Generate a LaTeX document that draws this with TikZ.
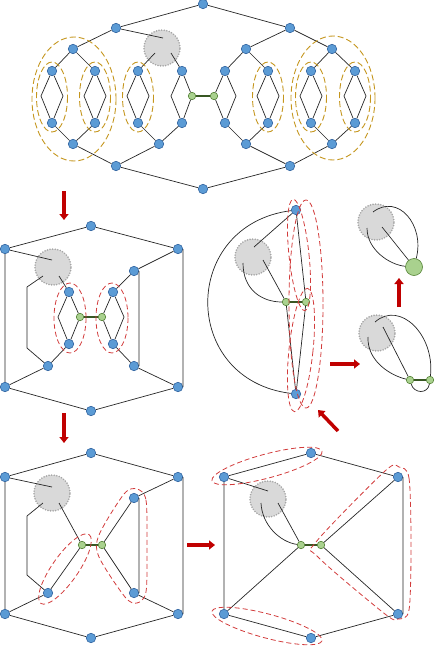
\documentclass[tikz,border=0pt]{standalone}
\usetikzlibrary{arrows.meta}
\definecolor{blunodo}{RGB}{91,155,213}
\definecolor{blubordo}{RGB}{50,100,160}
\definecolor{verdenodo}{RGB}{169,209,142}
\definecolor{verdebordo}{RGB}{84,130,53}
\definecolor{verdeponte}{RGB}{56,87,35}
\definecolor{grigio}{RGB}{217,217,217}
\definecolor{grigiobordo}{RGB}{166,166,166}
\definecolor{oro}{RGB}{197,150,30}
\definecolor{rossotratto}{RGB}{210,60,60}
\definecolor{rossofreccia}{RGB}{192,0,0}
\definecolor{linea}{RGB}{38,38,38}
\tikzset{
    nodo/.style={circle, inner sep=0pt, minimum size=9.5pt, fill=blunodo, draw=blubordo, line width=0.6pt}, % nodi blu
    verde/.style={circle, inner sep=0pt, minimum size=7.5pt, fill=verdenodo, draw=verdebordo, line width=0.6pt}, % nodi verdi
    grande/.style={verde, minimum size=17pt}, % nodo verde contratto
    macchia/.style={circle, minimum size=36pt, fill=grigio, draw=grigiobordo, line width=1.8pt, line cap=round, dash pattern=on 0pt off 2.6pt}, % sottografo
    arco/.style={draw=linea, line width=0.7pt},
    ponte/.style={draw=verdeponte, line width=2pt},
    ellisseoro/.style={draw=oro, line width=0.9pt, dash pattern=on 6pt off 3pt},
    ellisserossa/.style={draw=rossotratto, line width=0.8pt, dash pattern=on 5pt off 3pt},
    freccia/.style={draw=rossofreccia, line width=3.5pt, -{Triangle[width=9pt,length=6pt]}},
}

\begin{document}
\begin{tikzpicture}[x=1pt, y=-1pt]
\useasboundingbox (0,0) rectangle (436,648);

% Grafo iniziale
\node[macchia] (g1) at (162,48) {};
\node[nodo] (t0) at (203,4) {};
\node[nodo] (l1) at (116,28) {};
\node[nodo] (r1) at (290,28) {};
\node[nodo] (l2) at (73,49) {};
\node[nodo] (r2) at (246,49) {};
\node[nodo] (r3) at (332,49) {};
\foreach \i/\x in {1/52,2/95,3/138,4/182,5/225,6/268,7/311,8/355} {
    \node[nodo] (a\i) at (\x,71) {};
    \node[nodo] (b\i) at (\x,123) {};
}
\node[verde] (v1) at (192,96) {};
\node[verde] (v2) at (214,96) {};
\node[nodo] (l3) at (73,144) {};
\node[nodo] (l4) at (159,144) {};
\node[nodo] (r4) at (246,144) {};
\node[nodo] (r5) at (332,144) {};
\node[nodo] (l5) at (116,166) {};
\node[nodo] (r6) at (290,166) {};
\node[nodo] (d0) at (203,189) {};

\draw[arco] (l1) -- (t0) -- (r1)
    (l1) -- (l2) (l1) -- ([shift={(1,-10)}]g1.center)
    (r1) -- (r2) (r1) -- (r3)
    (l2) -- (a1) (l2) -- (a2)
    ([shift={(-7,5)}]g1.center) -- (a3) ([shift={(9,5)}]g1.center) -- (a4)
    (r2) -- (a5) (r2) -- (a6) (r3) -- (a7) (r3) -- (a8)
    (b1) -- (l3) -- (b2) (b3) -- (l4) -- (b4)
    (b5) -- (r4) -- (b6) (b7) -- (r5) -- (b8)
    (l3) -- (l5) -- (l4) (r4) -- (r6) -- (r5)
    (l5) -- (d0) -- (r6)
    (a4) -- +(-11,25) -- (b4) (a4) -- (v1) -- (b4)
    (a5) -- +(11,25) -- (b5) (a5) -- (v2) -- (b5);
\foreach \i in {1,2,3,6,7,8}
    \draw[arco] (a\i) -- +(-11,25) -- (b\i) (a\i) -- +(11,25) -- (b\i);
\draw[ponte] (v1) -- (v2);
\foreach \x in {52,95,138,268,311,355}
    \draw[ellisseoro] (\x,97) ellipse [x radius=15.5, y radius=35];
\draw[ellisseoro] (74,99) ellipse [x radius=42, y radius=62];
\draw[ellisseoro] (333,98) ellipse [x radius=42, y radius=62];

% Frecce
\coordinate (f1a) at (64,191); \coordinate (f1b) at (64,220);
\coordinate (f2a) at (64,413); \coordinate (f2b) at (64,443);
\coordinate (f3a) at (187,545); \coordinate (f3b) at (215,545);
\coordinate (f4a) at (338,431); \coordinate (f4b) at (318,410);
\coordinate (f5a) at (330,364); \coordinate (f5b) at (360,364);
\coordinate (f6a) at (399,307); \coordinate (f6b) at (399,278);
\draw[freccia] (f1a) -- (f1b);
\draw[freccia] (f2a) -- (f2b);
\draw[freccia] (f3a) -- (f3b);
\draw[freccia] (f4a) -- (f4b);
\draw[freccia] (f5a) -- (f5b);
\draw[freccia] (f6a) -- (f6b);

% Primo passo
\node[macchia] (mg) at (53,267) {};
\node[nodo] (m0) at (91,226) {};
\node[nodo] (m1) at (5,249) {};
\node[nodo] (m2) at (178,249) {};
\node[nodo] (m3) at (5,387) {};
\node[nodo] (m4) at (178,387) {};
\node[nodo] (m5) at (91,411) {};
\node[nodo] (m6) at (69,292) {};
\node[nodo] (m7) at (69,344) {};
\node[nodo] (m8) at (113,292) {};
\node[nodo] (m9) at (113,344) {};
\node[nodo] (m10) at (48,366) {};
\node[nodo] (m11) at (134,271) {};
\node[nodo] (m12) at (134,366) {};
\node[verde] (mv1) at (80,317) {};
\node[verde] (mv2) at (102,317) {};

\draw[arco] (m3) -- (m1) -- (m0) -- (m2) (m4) -- (m5) -- (m3)
    (m2.east) -- (m4.east)
    (m1) -- ([shift={(-1,-7)}]mg.center)
    ([shift={(-10,9)}]mg.center) -- (27,287) -- (27,348) -- (m10)
    ([shift={(6,9)}]mg.center) -- (m6)
    (m3) -- (m10) -- (m7)
    (m2) -- (m11) -- (m8)
    (m11.east) -- (m12.east)
    (m9) -- (m12) -- (m4)
    (m6) -- +(-11,25) -- (m7) (m6) -- (mv1) -- (m7)
    (m8) -- (mv2) -- (m9) (m8) -- +(11,25) -- (m9);
\draw[ponte] (mv1) -- (mv2);
\draw[ellisserossa] (70,318) ellipse [x radius=16, y radius=35];
\draw[ellisserossa] (112,318) ellipse [x radius=16, y radius=35];

% Secondo passo
\node[macchia] (ng) at (52,493) {};
\node[nodo] (n0) at (91,453) {};
\node[nodo] (n1) at (5,477) {};
\node[nodo] (n2) at (178,477) {};
\node[nodo] (n3) at (5,614) {};
\node[nodo] (n4) at (178,614) {};
\node[nodo] (n5) at (91,638) {};
\node[nodo] (n6) at (134,498) {};
\node[nodo] (n7) at (134,593) {};
\node[nodo] (n8) at (48,593) {};
\node[verde] (nv1) at (82,545) {};
\node[verde] (nv2) at (102,545) {};

\draw[arco] (n3) -- (n1) -- (n0) -- (n2) (n4) -- (n5) -- (n3)
    (n2.east) -- (n4.east)
    (n1) -- ([shift={(0,-6)}]ng.center)
    ([shift={(-9,10)}]ng.center) -- (27,516) -- (27,575) -- (n8)
    ([shift={(7,10)}]ng.center) -- (nv1) -- (n8) -- (n3)
    (n2) -- (n6) -- (nv2) -- (n7) -- (n4)
    (n6.east) -- (n7.east);
\draw[ponte] (nv1) -- (nv2);
\draw[ellisserossa, rotate around={55:(65,569)}] (65,569) ellipse [x radius=42, y radius=13];
\draw[ellisserossa] plot[smooth cycle] coordinates {(137,489) (146,500) (147,546) (146,592) (137,603) (125,597) (99,557) (99,535) (124,494)};

% Terzo passo
\node[macchia] (og) at (268,499) {};
\node[nodo] (o0) at (311,453) {};
\node[nodo] (o1) at (224,477) {};
\node[nodo] (o2) at (398,477) {};
\node[nodo] (o3) at (224,614) {};
\node[nodo] (o4) at (398,614) {};
\node[nodo] (o5) at (311,638) {};
\node[verde] (ov1) at (301,545) {};
\node[verde] (ov2) at (321,545) {};

\draw[arco] (o3) -- (o1) -- (o0) -- (o2) (o4) -- (o5) -- (o3)
    (o2.east) -- (o4.east)
    (o1) -- ([shift={(0,-8)}]og.center)
    ([shift={(10,4)}]og.center) -- (ov1) -- (o3)
    ([shift={(-7,4)}]og.center) .. controls (262,525) and (280,542) .. (ov1)
    (o2) -- (ov2) -- (o4);
\draw[ponte] (ov1) -- (ov2);
\draw[ellisserossa, rotate around={15:(267,466)}] (267,466) ellipse [x radius=57, y radius=12];
\draw[ellisserossa, rotate around={-15:(267,626)}] (267,626) ellipse [x radius=57, y radius=12];
\draw[ellisserossa] plot[smooth cycle] coordinates {(399,467) (409,478) (411,545) (409,610) (398,619) (385,614) (318,557) (316,542) (385,471)};

% Quarto passo
\node[macchia] (sg) at (253,257) {};
\node[nodo] (s1) at (296,210) {};
\node[nodo] (s2) at (296,394) {};
\node[verde] (sv1) at (286,302) {};
\node[verde] (sv2) at (306,302) {};

\draw[arco] (s1) -- ([shift={(1,-10)}]sg.center)
    (s1) .. controls (180,225) and (180,380) .. (s2)
    (s1) -- (sv2) -- (s2) -- (sv1)
    ([shift={(10,3)}]sg.center) -- (sv1)
    ([shift={(-10,6)}]sg.center) .. controls (243,290) and (262,302) .. (sv1);
\draw[ponte] (sv1) -- (sv2);
\draw[ellisserossa] (306,304) ellipse [x radius=17, y radius=104];
\draw[ellisserossa, rotate around={6:(299,255)}] (299,255) ellipse [x radius=10, y radius=56];
\draw[ellisserossa, rotate around={-6:(301,350)}] (301,350) ellipse [x radius=12, y radius=62];

% Quinto passo
\node[macchia] (u) at (377,333) {};
\node[verde] (uv1) at (410,380) {};
\node[verde] (uv2) at (430,380) {};

\draw[arco] ([shift={(-2,-11)}]u.center) .. controls (400,300) and (435,335) .. (uv2)
    ([shift={(6,-6)}]u.center) -- (uv1)
    ([shift={(-9,4)}]u.center) .. controls (367,362) and (392,376) .. (uv1)
    (uv1) .. controls (414,394) and (428,394) .. (uv2);
\draw[ponte] (uv1) -- (uv2);

% Ultimo passo
\node[macchia] (w) at (376,222) {};
\node[grande] (wv) at (414,267) {};

\draw[arco] ([shift={(-3,-10)}]w.center) .. controls (398,193) and (425,225) .. (wv)
    ([shift={(6,5)}]w.center) -- (wv)
    ([shift={(-9,6)}]w.center) .. controls (367,250) and (390,265) .. (wv);
\end{tikzpicture}
\end{document}
